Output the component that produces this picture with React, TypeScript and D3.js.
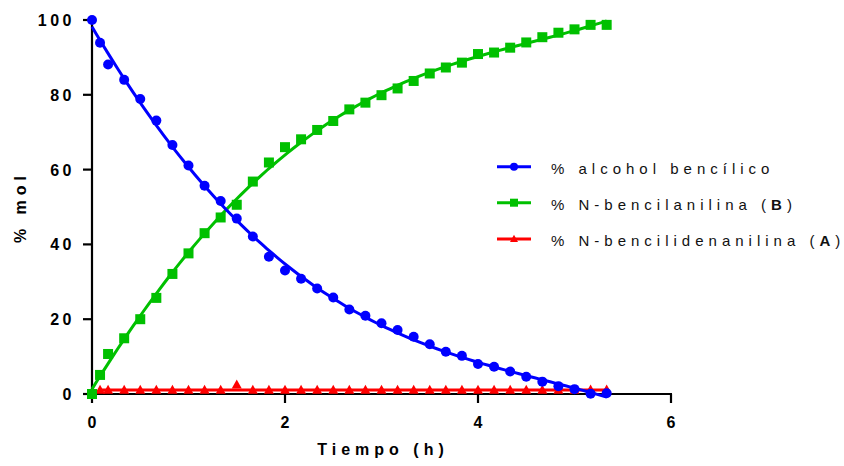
import React from "react";
import * as d3 from "d3";

const times: number[] = [0, 1 / 12, ...d3.range(1, 33).map((k) => k / 6)];
const alcohol: number[] = [100, 93.9, 88.1, 84.0, 78.9, 73.1, 66.6, 61.1, 55.7, 51.6, 46.9, 42.1, 36.7, 33.0, 30.8, 28.2, 25.8, 22.6, 20.9, 18.9, 17.1, 15.3, 13.3, 11.3, 10.2, 8.0, 7.3, 6.0, 4.6, 3.3, 2.1, 1.3, 0.1, 0.2];
const amine: number[] = [0, 5.1, 10.7, 14.9, 20.0, 25.7, 32.1, 37.6, 43.0, 47.2, 50.6, 56.8, 61.9, 66.0, 68.1, 70.6, 73.0, 76.1, 77.9, 79.9, 81.7, 83.7, 85.7, 87.3, 88.6, 90.9, 91.3, 92.6, 94.0, 95.4, 96.6, 97.5, 98.7, 98.7];
const imine: number[] = [NaN, 1.0, 1.0, 1.0, 1.0, 1.0, 1.0, 1.0, 1.0, 1.0, 2.4, 1.0, 1.0, 1.0, 1.0, 1.0, 1.0, 1.0, 1.0, 1.0, 1.0, 1.0, 1.0, 1.0, 1.0, 1.0, 1.0, 1.0, 1.0, 1.0, 1.0, 1.0, 1.1, 1.1];

const xTicks = [0, 2, 4, 6];
const yTicks = [0, 20, 40, 60, 80, 100];
const seriesNames = ["% alcohol bencílico", "% N-bencilanilina (", "% N-bencilidenanilina ("];
const seriesBold = ["", "B", "A"];

function polyfit(xs: number[], ys: number[], deg: number) {
  const n = deg + 1;
  const A = Array.from({ length: n }, () => new Array(n + 1).fill(0));
  xs.forEach((x, i) => {
    const y = ys[i];
    for (let r = 0; r < n; r++) {
      for (let c = 0; c < n; c++) A[r][c] += Math.pow(x, r + c);
      A[r][n] += y * Math.pow(x, r);
    }
  });
  for (let i = 0; i < n; i++) {
    let p = i;
    for (let k = i + 1; k < n; k++) if (Math.abs(A[k][i]) > Math.abs(A[p][i])) p = k;
    [A[i], A[p]] = [A[p], A[i]];
    for (let k = i + 1; k < n; k++) {
      const f = A[k][i] / A[i][i];
      for (let c = i; c <= n; c++) A[k][c] -= f * A[i][c];
    }
  }
  const coef = new Array(n).fill(0);
  for (let i = n - 1; i >= 0; i--) {
    let s = A[i][n];
    for (let c = i + 1; c < n; c++) s -= A[i][c] * coef[c];
    coef[i] = s / A[i][i];
  }
  return (x: number) => coef.reduce((s, c, i) => s + c * Math.pow(x, i), 0);
}

const W = 844, H = 466;
const x = d3.scaleLinear().domain([0, 6]).range([92, 671]);
const y = d3.scaleLinear().domain([0, 100]).range([394, 20]);

const FONT = "'Liberation Sans', Arial, sans-serif";

type Series = { vals: number[]; color: string; deg: number; shape: string };
const series: Series[] = [
  { vals: imine, color: "#ff0000", deg: 0, shape: "tri" },
  { vals: amine, color: "#00c000", deg: 4, shape: "sq" },
  { vals: alcohol, color: "#0000ff", deg: 4, shape: "circ" },
];

function Marker({ shape, cx, cy, color, s }: { shape: string; cx: number; cy: number; color: string; s: number }) {
  if (shape === "circ") return <circle cx={cx} cy={cy} r={s / 2} fill={color} />;
  if (shape === "sq") return <rect x={cx - s / 2} y={cy - s / 2} width={s} height={s} fill={color} />;
  const h = s * 0.9;
  return <path d={`M${cx},${cy - h * 0.6}L${cx + s / 2},${cy + h * 0.4}L${cx - s / 2},${cy + h * 0.4}Z`} fill={color} />;
}

export default function App() {
  const line = d3.line<[number, number]>().x((d) => x(d[0])).y((d) => y(d[1]));
  return (
    <svg width={W} height={H} style={{ position: "absolute", left: 0, top: 0, background: "#fff" }} fontFamily={FONT}>
      {/* axes */}
      <line x1={x(0)} x2={x(0)} y1={y(100) - 1} y2={y(0) + 1} stroke="#000" strokeWidth={2.2} />
      <line x1={x(0) - 1} x2={x(6) + 1} y1={y(0)} y2={y(0)} stroke="#000" strokeWidth={2.2} />
      {yTicks.map((t) => (
        <g key={"y" + t}>
          <line x1={x(0) - 9} x2={x(0)} y1={y(t)} y2={y(t)} stroke="#000" strokeWidth={2.2} />
          <text x={x(0) - 17} y={y(t)} dy="0.37em" textAnchor="end" fontSize={16} fontWeight="bold" letterSpacing={3.5}>{t}</text>
        </g>
      ))}
      {xTicks.map((t) => (
        <g key={"x" + t}>
          <line x1={x(t)} x2={x(t)} y1={y(0)} y2={y(0) + 9} stroke="#000" strokeWidth={2.2} />
          <text x={x(t)} y={428} textAnchor="middle" fontSize={16} fontWeight="bold">{t}</text>
        </g>
      ))}
      <text x={383} y={455} textAnchor="middle" fontSize={16} fontWeight="bold" letterSpacing={5}>Tiempo (h)</text>
      <text transform="translate(26,207) rotate(-90)" textAnchor="middle" fontSize={16} fontWeight="bold" letterSpacing={5}>% mol</text>

      {/* series */}
      {series.map((s, si) => {
        const pts = times.map((t, i) => [t, s.vals[i]] as [number, number]).filter((d) => !isNaN(d[1]));
        const f = polyfit(pts.map((d) => d[0]), pts.map((d) => d[1]), s.deg);
        const t0 = pts[0][0], t1 = pts[pts.length - 1][0];
        const fitPts = d3.range(0, 101).map((k) => {
          const t = t0 + ((t1 - t0) * k) / 100;
          return [t, f(t)] as [number, number];
        });
        return (
          <g key={"s" + si}>
            <path d={line(fitPts) || ""} fill="none" stroke={s.color} strokeWidth={3} />
            {pts.map((d, i) => (
              <Marker key={i} shape={s.shape} cx={x(d[0])} cy={y(d[1])} color={s.color} s={10} />
            ))}
          </g>
        );
      })}

      {/* legend */}
      {[2, 1, 0].map((si, row) => {
        const s = series[si];
        const ry = [166.7, 202.7, 239][row];
        return (
          <g key={"l" + row}>
            <line x1={497} x2={531} y1={ry} y2={ry} stroke={s.color} strokeWidth={3} />
            <Marker shape={s.shape} cx={514} cy={ry} color={s.color} s={8} />
            <text x={551} y={ry + 7} fontSize={15} letterSpacing={5} fill="#111">
              {seriesNames[row]}
              {seriesBold[row] && (
                <>
                  <tspan fontWeight="bold">{seriesBold[row]}</tspan>)
                </>
              )}
            </text>
          </g>
        );
      })}
    </svg>
  );
}
